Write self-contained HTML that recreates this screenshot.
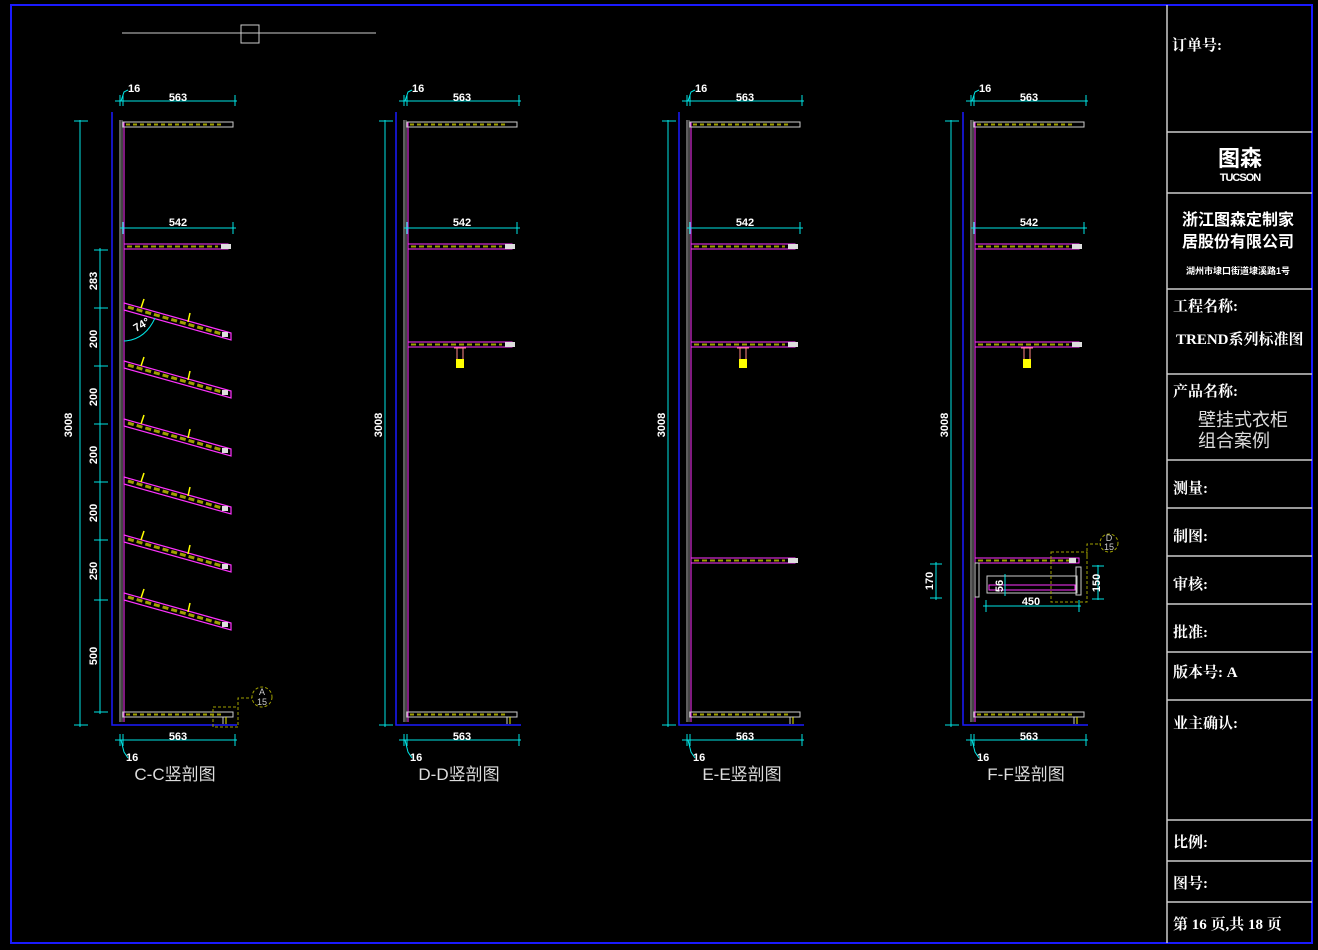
<!DOCTYPE html>
<html><head><meta charset="utf-8"><style>
html,body{margin:0;padding:0;background:#000;}
svg{display:block}
text{font-family:"Liberation Sans","Noto Sans CJK SC",sans-serif;}
.w{fill:#fff;font-weight:bold}
.d{fill:#fff;font-family:"Liberation Sans",sans-serif;font-size:11px;font-weight:bold}
.t{fill:#fff;font-family:"Liberation Serif","Noto Serif CJK SC",serif;font-weight:bold;font-size:15px}
</style></head><body>
<svg width="1318" height="950" viewBox="0 0 1318 950" xmlns="http://www.w3.org/2000/svg">
<defs>
<g id="base">
  <polyline points="112,112 112,725 237,725" fill="none" stroke="#1a1aff" stroke-width="1.5"/>
  <line x1="120" y1="120" x2="120" y2="722" stroke="#bbb" stroke-width="1"/>
  <line x1="122" y1="120" x2="122" y2="722" stroke="#888" stroke-width="1"/>
  <line x1="124" y1="122" x2="124" y2="722" stroke="#ff33ff" stroke-width="1"/>
  <rect x="123" y="122" width="110" height="5" fill="none" stroke="#ccc" stroke-width="1"/>
  <line x1="126" y1="124.5" x2="222" y2="124.5" stroke="#a0a000" stroke-width="2" stroke-dasharray="4,3"/>
  <rect x="124" y="244" width="104" height="5" fill="none" stroke="#ff33ff" stroke-width="1"/>
  <line x1="127" y1="246.5" x2="218" y2="246.5" stroke="#a0a000" stroke-width="2" stroke-dasharray="5,3"/>
  <rect x="221" y="244" width="10" height="5" fill="#ddd"/>
  <rect x="123" y="712" width="110" height="5" fill="none" stroke="#ccc" stroke-width="1"/>
  <line x1="126" y1="714.5" x2="222" y2="714.5" stroke="#a0a000" stroke-width="2" stroke-dasharray="4,3"/>
  <line x1="223" y1="717" x2="223" y2="724" stroke="#ccc"/>
  <line x1="226" y1="717" x2="226" y2="724" stroke="#ee0"/>
  <g stroke="#00e5e5" stroke-width="1" fill="none">
    <line x1="115" y1="101" x2="237" y2="101"/>
    <line x1="120" y1="95" x2="120" y2="106"/><line x1="123" y1="95" x2="123" y2="106"/><line x1="235" y1="95" x2="235" y2="106"/>
    <polyline points="121,101 124,92 128,90"/>
    <line x1="120" y1="228" x2="236" y2="228"/>
    <line x1="123" y1="222" x2="123" y2="234"/><line x1="233" y1="222" x2="233" y2="234"/>
    <line x1="115" y1="740" x2="237" y2="740"/>
    <line x1="120" y1="734" x2="120" y2="746"/><line x1="123" y1="734" x2="123" y2="746"/><line x1="235" y1="734" x2="235" y2="746"/>
    <polyline points="121,740 124,752 128,758"/>
  </g>
  <text class="d" x="128" y="92">16</text>
  <text class="d" x="178" y="101" text-anchor="middle">563</text>
  <text class="d" x="178" y="226" text-anchor="middle">542</text>
  <text class="d" x="178" y="740" text-anchor="middle">563</text>
  <text class="d" x="126" y="761">16</text>
</g>
<g id="vdim" stroke="#00e5e5" stroke-width="1" fill="none">
  <line x1="0" y1="120" x2="0" y2="727"/>
  <line x1="-6" y1="121" x2="8" y2="121"/><line x1="-6" y1="725" x2="8" y2="725"/>
</g>
<g id="rod">
  <rect x="124" y="342" width="104" height="5" fill="none" stroke="#ff33ff" stroke-width="1"/>
  <line x1="127" y1="344.5" x2="218" y2="344.5" stroke="#a0a000" stroke-width="2" stroke-dasharray="5,3"/>
  <rect x="221" y="342" width="10" height="5" fill="#ddd"/>
  <line x1="170" y1="348" x2="182" y2="348" stroke="#f88"/>
  <line x1="173" y1="348" x2="173" y2="360" stroke="#f88"/>
  <line x1="179" y1="348" x2="179" y2="360" stroke="#f88"/>
  <rect x="172" y="359" width="8" height="9" fill="#ff0"/>
</g>
<g id="slope">
  <polygon points="124,303 231,333 231,340 124,310" fill="none" stroke="#ff33ff" stroke-width="1.2"/>
  <line x1="128" y1="307" x2="222" y2="334" stroke="#a0a000" stroke-width="3" stroke-dasharray="6,3"/>
  <rect x="222" y="332" width="6" height="5" fill="#ddd"/>
  <line x1="141" y1="308" x2="144" y2="299" stroke="#ff0" stroke-width="1.5"/>
  <line x1="188" y1="322" x2="190" y2="313" stroke="#ff0" stroke-width="1.5"/>
</g>
</defs>

<rect x="11" y="5" width="1301" height="938" fill="none" stroke="#1a1aff" stroke-width="2"/>
<line x1="122" y1="33" x2="376" y2="33" stroke="#ccc"/>
<rect x="241" y="25" width="18" height="18" fill="none" stroke="#ccc"/>

<!-- C-C -->
<use href="#base"/>
<use href="#vdim" transform="translate(80,0)"/>
<use href="#slope"/>
<use href="#slope" transform="translate(0,58)"/>
<use href="#slope" transform="translate(0,116)"/>
<use href="#slope" transform="translate(0,174)"/>
<use href="#slope" transform="translate(0,232)"/>
<use href="#slope" transform="translate(0,290)"/>
<g stroke="#00e5e5" fill="none">
  <line x1="100" y1="248" x2="100" y2="714"/>
  <line x1="94" y1="250" x2="108" y2="250"/><line x1="94" y1="308" x2="108" y2="308"/>
  <line x1="94" y1="366" x2="108" y2="366"/><line x1="94" y1="424" x2="108" y2="424"/>
  <line x1="94" y1="482" x2="108" y2="482"/><line x1="94" y1="540" x2="108" y2="540"/>
  <line x1="94" y1="600" x2="108" y2="600"/><line x1="94" y1="712" x2="108" y2="712"/>
  <path d="M124,341 Q145,340 155,318"/>
</g>
<text class="d" transform="translate(97,281) rotate(-90)" text-anchor="middle">283</text>
<text class="d" transform="translate(97,339) rotate(-90)" text-anchor="middle">200</text>
<text class="d" transform="translate(97,397) rotate(-90)" text-anchor="middle">200</text>
<text class="d" transform="translate(97,455) rotate(-90)" text-anchor="middle">200</text>
<text class="d" transform="translate(97,513) rotate(-90)" text-anchor="middle">200</text>
<text class="d" transform="translate(97,571) rotate(-90)" text-anchor="middle">250</text>
<text class="d" transform="translate(97,656) rotate(-90)" text-anchor="middle">500</text>
<text class="d" transform="translate(72,425) rotate(-90)" text-anchor="middle">3008</text>
<text class="d" transform="translate(136,332) rotate(-30)">74°</text>
<g stroke="#a0a000" fill="none" stroke-dasharray="3,2">
  <rect x="213" y="707" width="25" height="20"/>
  <polyline points="238,710 238,698 252,698"/>
  <circle cx="262" cy="697" r="10"/>
</g>
<text x="262" y="695" fill="#ccc" font-size="9" text-anchor="middle">A</text>
<text x="262" y="705" fill="#ccc" font-size="9" text-anchor="middle">15</text>
<text x="175" y="780" fill="#ddd" font-size="17" text-anchor="middle">C-C竖剖图</text>

<!-- D-D -->
<g transform="translate(284,0)"><use href="#base"/><use href="#rod"/></g>
<use href="#vdim" transform="translate(385,0)"/>
<text class="d" transform="translate(382,425) rotate(-90)" text-anchor="middle">3008</text>
<text x="459" y="780" fill="#ddd" font-size="17" text-anchor="middle">D-D竖剖图</text>

<!-- E-E -->
<g transform="translate(567,0)">
<use href="#base"/><use href="#rod"/>
<rect x="124" y="558" width="104" height="5" fill="none" stroke="#ff33ff"/>
<line x1="127" y1="560.5" x2="218" y2="560.5" stroke="#a0a000" stroke-width="2" stroke-dasharray="5,3"/>
<rect x="221" y="558" width="10" height="5" fill="#ddd"/>
</g>
<use href="#vdim" transform="translate(668,0)"/>
<text class="d" transform="translate(665,425) rotate(-90)" text-anchor="middle">3008</text>
<text x="742" y="780" fill="#ddd" font-size="17" text-anchor="middle">E-E竖剖图</text>

<!-- F-F -->
<use href="#vdim" transform="translate(951,0)"/>
<text class="d" transform="translate(948,425) rotate(-90)" text-anchor="middle">3008</text>
<g transform="translate(851,0)">
<use href="#base"/><use href="#rod"/>
<rect x="124" y="558" width="104" height="5" fill="none" stroke="#ff33ff"/>
<line x1="127" y1="560.5" x2="218" y2="560.5" stroke="#a0a000" stroke-width="2" stroke-dasharray="5,3"/>
<rect x="218" y="558" width="7" height="5" fill="#ddd"/>
<rect x="124" y="563" width="4" height="34" fill="none" stroke="#ccc"/>
<rect x="136" y="576" width="90" height="17" fill="none" stroke="#ccc"/>
<rect x="138" y="585" width="86" height="5" fill="none" stroke="#ff33ff"/>
<rect x="225" y="567" width="5" height="28" fill="none" stroke="#ccc"/>
<g stroke="#a0a000" fill="none" stroke-dasharray="3,2">
  <rect x="200" y="552" width="36" height="50"/>
  <polyline points="236,556 236,544 250,544"/>
  <circle cx="258" cy="543" r="9"/>
</g>
<text x="258" y="541" fill="#ccc" font-size="9" text-anchor="middle">D</text>
<text x="258" y="550" fill="#ccc" font-size="9" text-anchor="middle">15</text>
<g stroke="#00e5e5" fill="none">
  <line x1="132" y1="606" x2="230" y2="606"/>
  <line x1="135" y1="600" x2="135" y2="612"/><line x1="228" y1="600" x2="228" y2="612"/>
  <line x1="85" y1="562" x2="85" y2="600"/>
  <line x1="79" y1="564" x2="91" y2="564"/><line x1="79" y1="598" x2="91" y2="598"/>
  <line x1="247" y1="565" x2="247" y2="600"/>
  <line x1="241" y1="566" x2="253" y2="566"/><line x1="241" y1="599" x2="253" y2="599"/>
  <line x1="154" y1="574" x2="154" y2="596"/>
</g>
<text class="d" x="180" y="605" text-anchor="middle">450</text>
<text class="d" transform="translate(82,581) rotate(-90)" text-anchor="middle">170</text>
<text class="d" transform="translate(249,583) rotate(-90)" text-anchor="middle">150</text>
<text class="d" transform="translate(152,586) rotate(-90)" text-anchor="middle">56</text>
</g>
<text x="1026" y="780" fill="#ddd" font-size="17" text-anchor="middle">F-F竖剖图</text>

<!-- title block -->
<g stroke="#ccc" stroke-width="1.5">
  <line x1="1167" y1="5" x2="1167" y2="943"/>
  <line x1="1167" y1="132" x2="1312" y2="132"/>
  <line x1="1167" y1="193" x2="1312" y2="193"/>
  <line x1="1167" y1="289" x2="1312" y2="289"/>
  <line x1="1167" y1="374" x2="1312" y2="374"/>
  <line x1="1167" y1="460" x2="1312" y2="460"/>
  <line x1="1167" y1="508" x2="1312" y2="508"/>
  <line x1="1167" y1="556" x2="1312" y2="556"/>
  <line x1="1167" y1="604" x2="1312" y2="604"/>
  <line x1="1167" y1="652" x2="1312" y2="652"/>
  <line x1="1167" y1="700" x2="1312" y2="700"/>
  <line x1="1167" y1="820" x2="1312" y2="820"/>
  <line x1="1167" y1="861" x2="1312" y2="861"/>
  <line x1="1167" y1="902" x2="1312" y2="902"/>
</g>
<text class="t" x="1172" y="50">订单号:</text>
<text class="w" x="1240" y="166" font-size="22" text-anchor="middle">图森</text>
<text class="w" x="1240" y="181" font-size="11" text-anchor="middle" letter-spacing="-1">TUCSON</text>
<text class="w" x="1238" y="225" font-size="16" text-anchor="middle">浙江图森定制家</text>
<text class="w" x="1238" y="247" font-size="16" text-anchor="middle">居股份有限公司</text>
<text class="w" x="1238" y="274" font-size="9" text-anchor="middle">湖州市埭口街道埭溪路1号</text>
<text class="t" x="1173" y="311">工程名称:</text>
<text class="t" x="1176" y="344">TREND系列标准图</text>
<text class="t" x="1173" y="396">产品名称:</text>
<text x="1198" y="426" fill="#ddd" font-size="18" font-family="Noto Sans CJK SC,sans-serif">壁挂式衣柜</text>
<text x="1198" y="447" fill="#ddd" font-size="18" font-family="Noto Sans CJK SC,sans-serif">组合案例</text>
<text class="t" x="1173" y="493">测量:</text>
<text class="t" x="1173" y="541">制图:</text>
<text class="t" x="1173" y="589">审核:</text>
<text class="t" x="1173" y="637">批准:</text>
<text class="t" x="1173" y="677">版本号:   A</text>
<text class="t" x="1173" y="728">业主确认:</text>
<text class="t" x="1173" y="847">比例:</text>
<text class="t" x="1173" y="888">图号:</text>
<text class="t" x="1173" y="929">第 16 页,共 18 页</text>
</svg>
</body></html>
